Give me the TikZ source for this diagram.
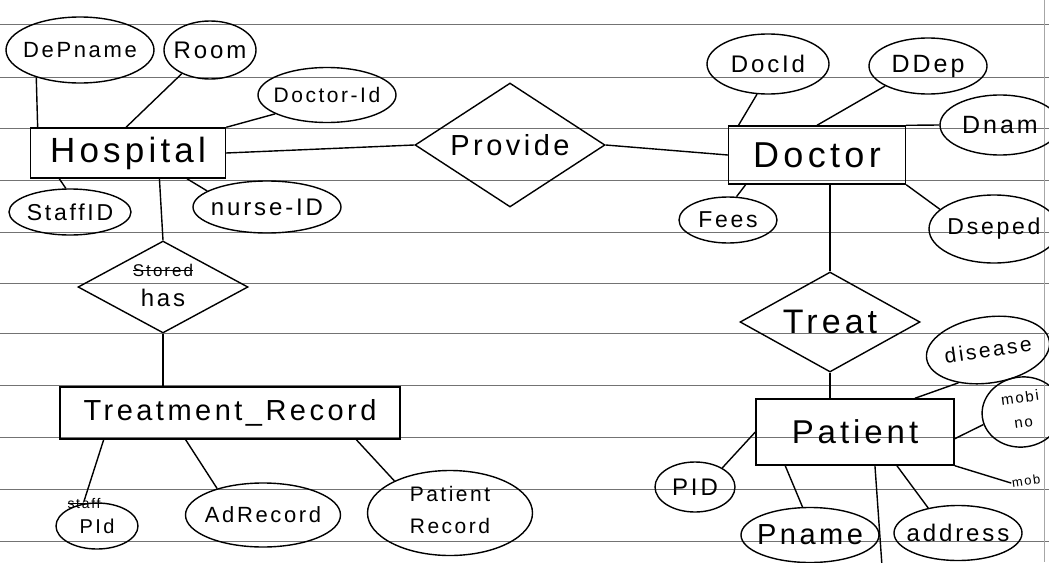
\documentclass[tikz,border=0pt]{standalone}
\usepackage{fontspec}
\setmainfont{Liberation Sans}[LetterSpace=12]
\usetikzlibrary{shapes.geometric,calc}
\newcommand{\zt}[1]{\makebox[0pt]{#1}}
\newcommand{\zs}[1]{\makebox[0pt]{\begin{tabular}{@{}c@{}}#1\end{tabular}}}
\newcommand{\fs}[1]{\fontsize{#1}{#1}\selectfont}
\newsavebox{\strkbox}
\newcommand{\strk}[1]{\sbox{\strkbox}{#1}\rlap{\rule[0.3em]{\wd\strkbox}{1.2pt}}\usebox{\strkbox}}
\begin{document}
\begin{tikzpicture}[x=1pt,y=-1pt,line width=1.4pt,
  ruled/.style={line width=0.9pt,black!55},
  attr/.style={draw,ellipse,inner sep=0pt},
  ent/.style={draw,rectangle,inner sep=0pt},
  rel/.style={draw,diamond,inner sep=0pt},
  lbl/.style={inner sep=0pt}]
\useasboundingbox (0,0) rectangle (1049,562);
\fill[white] (0,0) rectangle (1049,562);
\clip (0,0) rectangle (1049,562);
% ruled paper
\foreach \yy in {24,77,128,180,232,283,333,385,437,489,541}
  \draw[ruled] (0,\yy) -- (1049,\yy);
\draw[line width=0.8pt,black!35] (1044,0) -- (1044,562);

% ---------- Hospital side ----------
\node[ent,minimum width=195pt,minimum height=50pt,font=\fs{35}] (hosp) at (128,153) {Hospital};
\node[attr,minimum width=148pt,minimum height=66pt,font=\fs{22}] (depname) at (80,50) {\zt{DePname}};
\node[attr,minimum width=92pt,minimum height=58pt,font=\fs{24}] (room) at (210,50) {\zt{Room}};
\node[attr,minimum width=138pt,minimum height=55pt,font=\fs{21}] (docid1) at (327,95) {\zt{Doctor-Id}};
\node[attr,minimum width=122pt,minimum height=46pt,font=\fs{23}] (staffid) at (70,212) {\zt{StaffID}};
\node[attr,minimum width=148pt,minimum height=52pt,font=\fs{24}] (nurse) at (267,207) {\zt{nurse-ID}};
\node[rel,minimum width=170pt,minimum height=92pt] (has) at (163,287)
  {\zs{\fs{17}\strk{Stored}\\[9pt]\fs{24}has}};
\node[ent,minimum width=340pt,minimum height=52pt,font=\fs{29}] (treatrec) at (230,413) {Treatment\_Record};
\node[lbl,font=\fs{14}] (staff) at (84,503) {\strk{staff}};
\node[attr,minimum width=82pt,minimum height=46pt,font=\fs{20}] (pid1) at (97,526) {\zt{PId}};
\node[attr,minimum width=155pt,minimum height=64pt,font=\fs{22}] (adrec) at (263,515) {\zt{AdRecord}};
\node[attr,minimum width=165pt,minimum height=85pt,font=\fs{21}] (patrec) at (450,513) {\zs{Patient\\[11pt]Record}};

% ---------- Provide ----------
\node[rel,minimum width=190pt,minimum height=124pt,font=\fs{29}] (provide) at (510,145) {\zt{Provide}};

% ---------- Doctor side ----------
\node[ent,minimum width=177pt,minimum height=58pt,font=\fs{36}] (doctor) at (817,155) {Doctor};
\node[attr,minimum width=122pt,minimum height=60pt,font=\fs{24}] (docid) at (768,64) {\zt{DocId}};
\node[attr,minimum width=118pt,minimum height=56pt,font=\fs{25}] (ddep) at (928,66) {\zt{DDep}};
\node[attr,minimum width=120pt,minimum height=60pt,font=\fs{25}] (dnam) at (1000,125) {\zt{Dnam}};
\node[attr,minimum width=98pt,minimum height=46pt,font=\fs{23}] (fees) at (728,220) {\zt{Fees}};
\node[attr,minimum width=130pt,minimum height=68pt,font=\fs{23}] (dseped) at (994,229) {\zt{Dseped}};
\node[rel,minimum width=180pt,minimum height=100pt,font=\fs{34}] (treat) at (830,322) {\zt{Treat}};

% ---------- Patient side ----------
\node[ent,minimum width=198pt,minimum height=66pt,font=\fs{33}] (patient) at (855,432) {Patient};
\node[attr,rotate=8,minimum width=124pt,minimum height=66pt,font=\fs{21}] (disease) at (988,350) {\zt{disease}};
\node[attr,rotate=8,minimum width=80pt,minimum height=70pt,font=\fs{15}] (mobile) at (1022,412) {\zs{mobi\\[10pt]no}};
\node[lbl,rotate=8,font=\fs{13}] (mob) at (1026,481) {mob};
\node[attr,minimum width=80pt,minimum height=50pt,font=\fs{24}] (pid) at (695,487) {\zt{PID}};
\node[attr,minimum width=138pt,minimum height=55pt,font=\fs{29}] (pname) at (810,535) {\zt{Pname}};
\node[attr,minimum width=128pt,minimum height=55pt,font=\fs{24}] (addr) at (958,533) {\zt{address}};
\coordinate (offb) at (882,566);

% ---------- connectors ----------
\draw (depname.212) -- ($(hosp.north west)!0.04!(hosp.north east)$);
\draw (room.220) -- ($(hosp.north west)!0.49!(hosp.north east)$);
\draw (docid1.200) -- (hosp.north east);
\draw ($(hosp.south west)!0.15!(hosp.south east)$) -- (staffid.100);
\draw ($(hosp.south west)!0.80!(hosp.south east)$) -- (nurse.165);
\draw ($(hosp.south west)!0.66!(hosp.south east)$) -- (has.north);
\draw (has.south) -- (has.south |- treatrec.north);
\draw ($(treatrec.south west)!0.13!(treatrec.south east)$) -- ([yshift=-4pt]staff.north);
\draw ($(treatrec.south west)!0.37!(treatrec.south east)$) -- (adrec.150);
\draw ($(treatrec.south west)!0.87!(treatrec.south east)$) -- (patrec.150);
\draw (hosp.east) -- (provide.west);
\draw (provide.east) -- (doctor.west);
\draw (docid.250) -- ($(doctor.north west)!0.06!(doctor.north east)$);
\draw (ddep.205) -- ($(doctor.north west)!0.5!(doctor.north east)$);
\draw (doctor.north east) -- (dnam.west);
\draw ($(doctor.south west)!0.10!(doctor.south east)$) -- (fees.70);
\draw (doctor.south east) -- (dseped.160);
\draw (doctor.south -| treat.north) -- (treat.north);
\draw (treat.south) -- (treat.south |- patient.north);
\draw ($(patient.north west)!0.80!(patient.north east)$) -- (disease.220);
\draw ($(patient.north east)!0.6!(patient.south east)$) -- (mobile.190);
\draw (patient.south east) -- (mob.west);
\draw (pid.35) -- (patient.west);
\draw ($(patient.south west)!0.15!(patient.south east)$) -- (pname.105);
\draw ($(patient.south west)!0.60!(patient.south east)$) -- (offb);
\draw ($(patient.south west)!0.71!(patient.south east)$) -- (addr.140);
\end{tikzpicture}
\end{document}
